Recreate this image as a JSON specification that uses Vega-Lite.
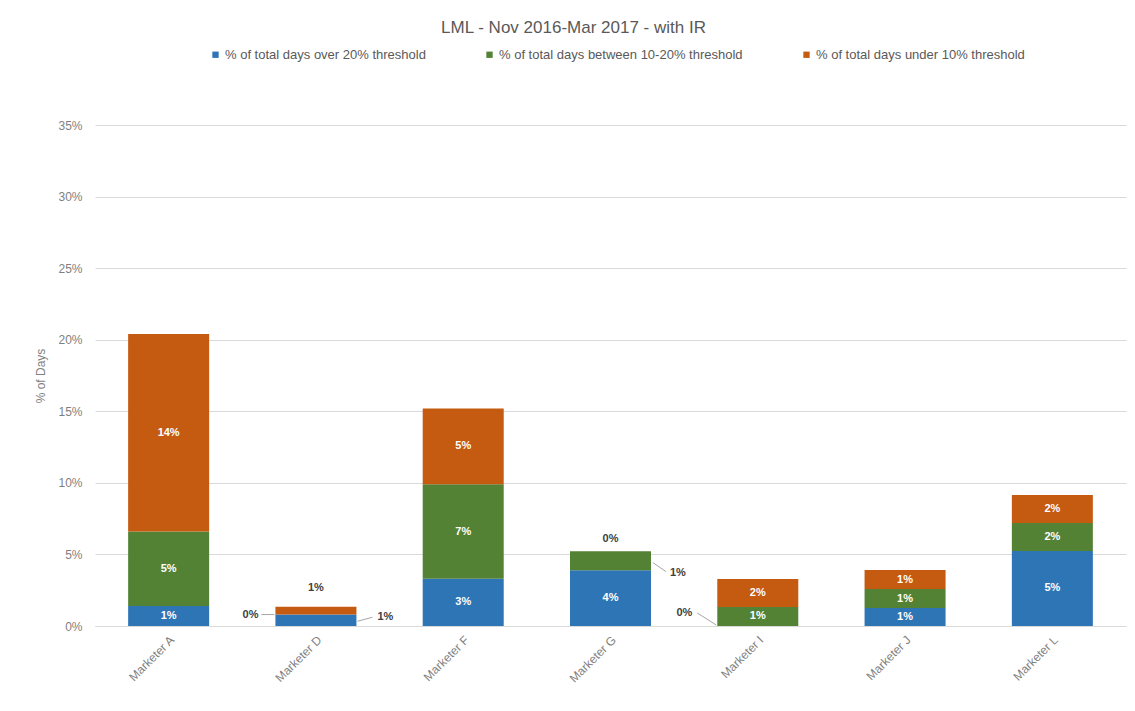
{
  "$schema": "https://vega.github.io/schema/vega-lite/v6.json",
  "width": 1031,
  "height": 501,
  "autosize": {"type": "none"},
  "padding": {"left": 95, "top": 125, "right": 9, "bottom": 85},
  "background": "white",
  "title": {
    "text": "LML - Nov 2016-Mar 2017 - with IR",
    "anchor": "middle",
    "dx": -37,
    "offset": 11,
    "fontSize": 17,
    "fontWeight": "normal",
    "color": "#595959",
    "font": "Liberation Sans"
  },
  "config": {
    "font": "Liberation Sans",
    "view": {"stroke": null},
    "axis": {"labelColor": "#7F7F7F", "labelFontSize": 12, "titleColor": "#7F7F7F", "titleFontWeight": "normal"}
  },
  "data": {
    "values": [
      {"marketer": "Marketer A", "category": "% of total days over 20% threshold", "value": 0.014},
      {"marketer": "Marketer A", "category": "% of total days between 10-20% threshold", "value": 0.052},
      {"marketer": "Marketer A", "category": "% of total days under 10% threshold", "value": 0.138},
      {"marketer": "Marketer D", "category": "% of total days over 20% threshold", "value": 0.008},
      {"marketer": "Marketer D", "category": "% of total days between 10-20% threshold", "value": 0},
      {"marketer": "Marketer D", "category": "% of total days under 10% threshold", "value": 0.0055},
      {"marketer": "Marketer F", "category": "% of total days over 20% threshold", "value": 0.033},
      {"marketer": "Marketer F", "category": "% of total days between 10-20% threshold", "value": 0.066},
      {"marketer": "Marketer F", "category": "% of total days under 10% threshold", "value": 0.053},
      {"marketer": "Marketer G", "category": "% of total days over 20% threshold", "value": 0.039},
      {"marketer": "Marketer G", "category": "% of total days between 10-20% threshold", "value": 0.0133},
      {"marketer": "Marketer G", "category": "% of total days under 10% threshold", "value": 0},
      {"marketer": "Marketer I", "category": "% of total days over 20% threshold", "value": 0},
      {"marketer": "Marketer I", "category": "% of total days between 10-20% threshold", "value": 0.0133},
      {"marketer": "Marketer I", "category": "% of total days under 10% threshold", "value": 0.0195},
      {"marketer": "Marketer J", "category": "% of total days over 20% threshold", "value": 0.0126},
      {"marketer": "Marketer J", "category": "% of total days between 10-20% threshold", "value": 0.0132},
      {"marketer": "Marketer J", "category": "% of total days under 10% threshold", "value": 0.0133},
      {"marketer": "Marketer L", "category": "% of total days over 20% threshold", "value": 0.0524},
      {"marketer": "Marketer L", "category": "% of total days between 10-20% threshold", "value": 0.0195},
      {"marketer": "Marketer L", "category": "% of total days under 10% threshold", "value": 0.0196}
    ]
  },
  "transform": [
    {"calculate": "indexof(['% of total days over 20% threshold','% of total days between 10-20% threshold','% of total days under 10% threshold'], datum.category)", "as": "ord"},
    {"stack": "value", "groupby": ["marketer"], "sort": [{"field": "ord", "order": "ascending"}], "as": ["v0", "v1"]},
    {"calculate": "(datum.v0 + datum.v1) / 2", "as": "mid"}
  ],
  "encoding": {
    "x": {
      "field": "marketer",
      "type": "nominal",
      "sort": null,
      "scale": {"paddingInner": 0.45, "paddingOuter": 0.225},
      "axis": {
        "title": null,
        "labelAngle": -45,
        "labelPadding": 8,
        "ticks": false,
        "domainColor": "#D9D9D9"
      }
    }
  },
  "layer": [
    {
      "mark": {"type": "bar"},
      "encoding": {
        "y": {
          "field": "v1",
          "type": "quantitative",
          "scale": {"domain": [0, 0.35]},
          "axis": {
            "title": "% of Days",
            "titleFontSize": 12,
            "titlePadding": 10,
            "values": [0, 0.05, 0.1, 0.15, 0.2, 0.25, 0.3, 0.35],
            "format": ".0%",
            "domain": false,
            "ticks": false,
            "labelPadding": 13,
            "gridColor": "#D9D9D9"
          }
        },
        "y2": {"field": "v0"},
        "color": {
          "field": "category",
          "type": "nominal",
          "scale": {
            "domain": ["% of total days over 20% threshold", "% of total days between 10-20% threshold", "% of total days under 10% threshold"],
            "range": ["#2E75B6", "#548235", "#C55A11"]
          },
          "legend": {
            "orient": "none",
            "direction": "horizontal",
            "legendX": 114,
            "legendY": -77,
            "title": null,
            "symbolType": "square",
            "symbolSize": 40,
            "labelFontSize": 13,
            "labelColor": "#595959",
            "labelLimit": 0,
            "columnPadding": 57,
            "labelOffset": 3
          }
        }
      }
    },
    {
      "transform": [{"filter": "datum.value >= 0.01 && !(datum.marketer == 'Marketer G' && datum.ord == 1)"}],
      "mark": {"type": "text", "color": "white", "fontWeight": "bold", "fontSize": 11, "baseline": "middle"},
      "encoding": {
        "y": {"field": "mid", "type": "quantitative"},
        "text": {"field": "value", "type": "quantitative", "format": ".0%"}
      }
    },
    {
      "transform": [{"filter": "datum.marketer == 'Marketer D' && datum.ord == 1"}],
      "mark": {"type": "text", "color": "#404040", "fontWeight": "bold", "fontSize": 11, "baseline": "middle", "align": "right", "dx": -17},
      "encoding": {
        "x": {"field": "marketer", "type": "nominal", "sort": null, "bandPosition": 0},
        "y": {"field": "mid", "type": "quantitative"},
        "text": {"field": "value", "type": "quantitative", "format": ".0%"}
      }
    },
    {
      "transform": [{"filter": "datum.marketer == 'Marketer D' && datum.ord == 0"}],
      "mark": {"type": "text", "color": "#404040", "fontWeight": "bold", "fontSize": 11, "baseline": "middle", "align": "left", "dx": 21, "dy": -3},
      "encoding": {
        "x": {"field": "marketer", "type": "nominal", "sort": null, "bandPosition": 1},
        "y": {"field": "mid", "type": "quantitative"},
        "text": {"field": "value", "type": "quantitative", "format": ".0%"}
      }
    },
    {
      "transform": [{"filter": "datum.marketer == 'Marketer D' && datum.ord == 2"}],
      "mark": {"type": "text", "color": "#404040", "fontWeight": "bold", "fontSize": 11, "baseline": "middle", "dy": -19},
      "encoding": {
        "y": {"field": "v1", "type": "quantitative"},
        "text": {"field": "value", "type": "quantitative", "format": ".0%"}
      }
    },
    {
      "transform": [{"filter": "datum.marketer == 'Marketer G' && datum.ord == 2"}],
      "mark": {"type": "text", "color": "#404040", "fontWeight": "bold", "fontSize": 11, "baseline": "middle", "dy": -12},
      "encoding": {
        "y": {"field": "v1", "type": "quantitative"},
        "text": {"field": "value", "type": "quantitative", "format": ".0%"}
      }
    },
    {
      "transform": [{"filter": "datum.marketer == 'Marketer G' && datum.ord == 1"}],
      "mark": {"type": "text", "color": "#404040", "fontWeight": "bold", "fontSize": 11, "baseline": "middle", "align": "left", "dx": 19, "dy": 12},
      "encoding": {
        "x": {"field": "marketer", "type": "nominal", "sort": null, "bandPosition": 1},
        "y": {"field": "mid", "type": "quantitative"},
        "text": {"field": "value", "type": "quantitative", "format": ".0%"}
      }
    },
    {
      "transform": [{"filter": "datum.marketer == 'Marketer I' && datum.ord == 0"}],
      "mark": {"type": "text", "color": "#404040", "fontWeight": "bold", "fontSize": 11, "baseline": "middle", "align": "right", "dx": -25, "dy": -13},
      "encoding": {
        "x": {"field": "marketer", "type": "nominal", "sort": null, "bandPosition": 0},
        "y": {"field": "mid", "type": "quantitative"},
        "text": {"field": "value", "type": "quantitative", "format": ".0%"}
      }
    },
    {
      "transform": [{"filter": "datum.marketer == 'Marketer D' && datum.ord == 1"}],
      "mark": {"type": "rule", "color": "#A6A6A6", "strokeWidth": 1, "xOffset": -14, "x2Offset": -1},
      "encoding": {
        "x": {"field": "marketer", "type": "nominal", "sort": null, "bandPosition": 0},
        "x2": {"field": "marketer", "bandPosition": 0},
        "y": {"field": "mid", "type": "quantitative"}
      }
    },
    {
      "transform": [{"filter": "datum.marketer == 'Marketer D' && datum.ord == 0"}],
      "mark": {"type": "rule", "color": "#A6A6A6", "strokeWidth": 1, "xOffset": 1, "x2Offset": 16, "yOffset": 1, "y2Offset": -3},
      "encoding": {
        "x": {"field": "marketer", "type": "nominal", "sort": null, "bandPosition": 1},
        "x2": {"field": "marketer", "bandPosition": 1},
        "y": {"field": "mid", "type": "quantitative"},
        "y2": {"field": "mid"}
      }
    },
    {
      "transform": [{"filter": "datum.marketer == 'Marketer G' && datum.ord == 1"}],
      "mark": {"type": "rule", "color": "#A6A6A6", "strokeWidth": 1, "xOffset": 2, "x2Offset": 15, "yOffset": 2, "y2Offset": 11},
      "encoding": {
        "x": {"field": "marketer", "type": "nominal", "sort": null, "bandPosition": 1},
        "x2": {"field": "marketer", "bandPosition": 1},
        "y": {"field": "mid", "type": "quantitative"},
        "y2": {"field": "mid"}
      }
    },
    {
      "transform": [{"filter": "datum.marketer == 'Marketer I' && datum.ord == 0"}],
      "mark": {"type": "rule", "color": "#A6A6A6", "strokeWidth": 1, "xOffset": -20, "x2Offset": -1, "yOffset": -13, "y2Offset": -1},
      "encoding": {
        "x": {"field": "marketer", "type": "nominal", "sort": null, "bandPosition": 0},
        "x2": {"field": "marketer", "bandPosition": 0},
        "y": {"field": "mid", "type": "quantitative"},
        "y2": {"field": "mid"}
      }
    }
  ]
}
